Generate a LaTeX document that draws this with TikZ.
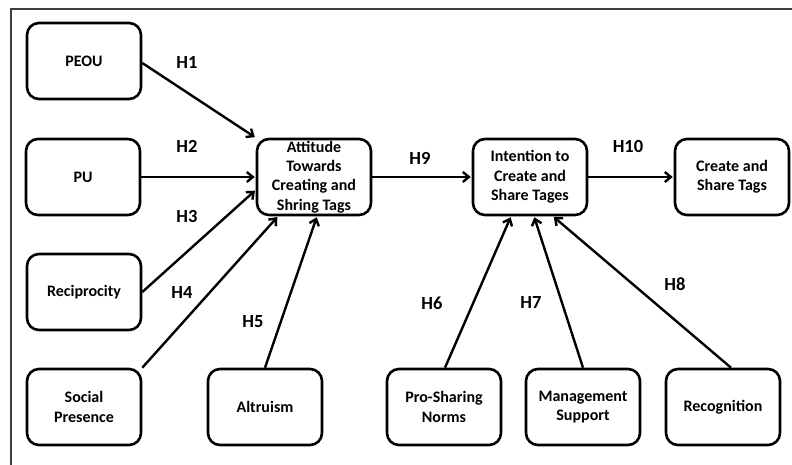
\documentclass[tikz,border=0pt]{standalone}
\usepackage{fontspec}
\setmainfont{Carlito}
\usetikzlibrary{arrows.meta}

\tikzset{
	construct/.style={draw, line width=2.6pt, rounded corners=12pt, minimum width=114pt,
		minimum height=76pt, align=center, font=\fontsize{16}{19.3}\bfseries\selectfont,
		inner sep=1pt},
	hyp/.style={font=\fontsize{18.5}{20}\bfseries\selectfont},
	path/.style={line width=2.4pt, -{Straight Barb[length=6pt,width=10pt]}, shorten >=1pt}
}

\begin{document}
\begin{tikzpicture}[x=1pt,y=-1pt]
	\useasboundingbox (0,0) rectangle (792,464);
	\draw[line width=2pt, black!75] (11,470) -- (11,9) -- (800,9);
	% constructs
	\node[construct] (peou) at (84,61) {PEOU};
	\node[construct] (pu) at (83,177) {PU};
	\node[construct] (recip) at (84,292) {Reciprocity};
	\node[construct] (social) at (84,407) {Social\\Presence};
	\node[construct] (altru) at (265,407) {Altruism};
	\node[construct] (attitude) at (314,177) {Attitude\\Towards\\Creating and\\Shring Tags};
	\node[construct] (intent) at (530,177) {Intention to\\Create and\\Share Tages};
	\node[construct] (create) at (732,177) {Create and\\Share Tags};
	\node[construct] (norms) at (444,407) {Pro-Sharing\\Norms};
	\node[construct] (mgmt) at (583,407) {Management\\Support};
	\node[construct] (recog) at (723,407) {Recognition};
	% paths
	\draw[path] (peou.east) ++(0,2) coordinate (p1) -- (attitude.north west);
	\draw[path] (pu.east) -- (attitude.west);
	\draw[path] (recip.east) -- ([yshift=-13pt]attitude.west);
	\draw[path] (social.north east) -- ([xshift=-36pt]attitude.south);
	\draw[path] (altru.north) -- ([xshift=3pt]attitude.south);
	\draw[path] (attitude.east) -- (intent.west);
	\draw[path] (intent.east) -- (create.west);
	\draw[path] ([xshift=1pt]norms.north) -- ([xshift=-19pt]intent.south);
	\draw[path] (mgmt.north) -- ([xshift=4pt]intent.south);
	\draw[path] ([xshift=8pt]recog.north) -- ([xshift=23pt]intent.south);
	% labels
	\node[hyp] (h1) at (187,62) {H1};
	\node[hyp] (h2) at (187,146) {H2};
	\node[hyp] (h3) at (187,216) {H3};
	\node[hyp] (h4) at (182,292) {H4};
	\node[hyp] (h5) at (253,322) {H5};
	\node[hyp] (h6) at (432,303) {H6};
	\node[hyp] (h7) at (531,302) {H7};
	\node[hyp] (h8) at (675,284) {H8};
	\node[hyp] (h9) at (420,158) {H9};
	\node[hyp] (h10) at (628,146) {H10};
\end{tikzpicture}
\end{document}
